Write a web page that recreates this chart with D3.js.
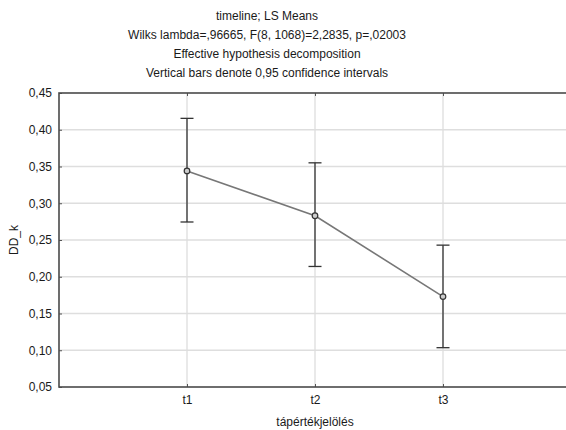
<!DOCTYPE html>
<html>
<head>
<meta charset="utf-8">
<script src="https://cdn.jsdelivr.net/npm/d3@7"></script>
<style>
  body { margin: 0; background: #fff; }
  svg { display: block; font-family: 'Liberation Sans', Arial, sans-serif; }
</style>
</head>
<body>
<svg></svg>
<script>
const groups = ['t1', 't2', 't3'];
const means = [0.344, 0.283, 0.173];
const lower = [0.2745, 0.214, 0.1035];
const upper = [0.4155, 0.355, 0.243];
const yTicks = [0.05, 0.10, 0.15, 0.20, 0.25, 0.30, 0.35, 0.40, 0.45];
const titleLines = [
    'timeline; LS Means',
    'Wilks lambda=,96665, F(8, 1068)=2,2835, p=,02003',
    'Effective hypothesis decomposition',
    'Vertical bars denote 0,95 confidence intervals'
];

const width = 566;
const height = 430;
const plotLeft = 59, plotRight = 571, plotTop = 93, plotBottom = 387;

const svg = d3.select('svg').attr('width', width).attr('height', height);

const xScale = d3.scalePoint()
    .domain(['', ...groups, ' '])
    .range([plotLeft, plotRight]);

const yScale = d3.scaleLinear()
    .domain([0.05, 0.45])
    .range([plotBottom, plotTop]);

const fmt = d => d3.format('.2f')(d).replace('.', ',');

// gridlines
svg.append('g')
    .selectAll('line')
    .data(yTicks.slice(1, -1))
    .enter()
    .append('line')
    .attr('x1', plotLeft).attr('x2', plotRight)
    .attr('y1', d => yScale(d)).attr('y2', d => yScale(d))
    .attr('stroke', '#dedede').attr('stroke-width', 1.3);

svg.append('g')
    .selectAll('line')
    .data(groups)
    .enter()
    .append('line')
    .attr('x1', d => xScale(d)).attr('x2', d => xScale(d))
    .attr('y1', plotTop).attr('y2', plotBottom)
    .attr('stroke', '#dedede').attr('stroke-width', 1.3);

// axes (ticks pointing inward)
const yAxis = d3.axisLeft(yScale).tickValues(yTicks).tickSize(-3).tickPadding(7).tickFormat(fmt);
const gy = svg.append('g').attr('transform', `translate(${plotLeft},0)`).call(yAxis);
gy.select('.domain').remove();
gy.selectAll('line').attr('stroke', '#555');
gy.selectAll('text').attr('font-size', 12).attr('fill', '#1a1a1a');

const xAxis = d3.axisBottom(xScale).tickValues(groups).tickSize(-3).tickPadding(8);
const gx = svg.append('g').attr('transform', `translate(0,${plotBottom})`).call(xAxis);
gx.select('.domain').remove();
gx.selectAll('line').attr('stroke', '#555');
gx.selectAll('text').attr('font-size', 12).attr('fill', '#1a1a1a');

const xTop = d3.axisTop(xScale).tickValues(groups).tickSize(-3).tickFormat('');
const gt = svg.append('g').attr('transform', `translate(0,${plotTop})`).call(xTop);
gt.select('.domain').remove();
gt.selectAll('line').attr('stroke', '#555');

// frame
svg.append('rect')
    .attr('x', plotLeft).attr('y', plotTop)
    .attr('width', plotRight - plotLeft).attr('height', plotBottom - plotTop)
    .attr('fill', 'none').attr('stroke', '#4a4a4a').attr('stroke-width', 1.6);

// error bars
const bars = svg.append('g').attr('stroke', '#333').attr('stroke-width', 1.3);
groups.forEach((g, i) => {
    const x = xScale(g);
    bars.append('line').attr('x1', x).attr('x2', x).attr('y1', yScale(lower[i])).attr('y2', yScale(upper[i]));
    bars.append('line').attr('x1', x - 6.5).attr('x2', x + 6.5).attr('y1', yScale(upper[i])).attr('y2', yScale(upper[i]));
    bars.append('line').attr('x1', x - 6.5).attr('x2', x + 6.5).attr('y1', yScale(lower[i])).attr('y2', yScale(lower[i]));
});

// mean line
const line = d3.line()
    .x((d, i) => xScale(groups[i]))
    .y(d => yScale(d));
svg.append('path')
    .datum(means)
    .attr('d', line)
    .attr('fill', 'none')
    .attr('stroke', '#777')
    .attr('stroke-width', 1.6);

svg.append('g')
    .selectAll('circle')
    .data(means)
    .enter()
    .append('circle')
    .attr('cx', (d, i) => xScale(groups[i]))
    .attr('cy', d => yScale(d))
    .attr('r', 2.8)
    .attr('fill', '#ccc')
    .attr('stroke', '#333')
    .attr('stroke-width', 1.2);

// titles
svg.append('g')
    .selectAll('text')
    .data(titleLines)
    .enter()
    .append('text')
    .attr('x', 267)
    .attr('y', (d, i) => 20 + i * 19)
    .attr('text-anchor', 'middle')
    .attr('font-size', 12)
    .attr('fill', '#1a1a1a')
    .text(d => d);

svg.append('text')
    .attr('x', xScale('t2'))
    .attr('y', 426)
    .attr('text-anchor', 'middle')
    .attr('font-size', 12)
    .attr('fill', '#1a1a1a')
    .text('tápértékjelölés');

svg.append('text')
    .attr('transform', `translate(18,${(plotTop + plotBottom) / 2}) rotate(-90)`)
    .attr('text-anchor', 'middle')
    .attr('font-size', 12)
    .attr('fill', '#1a1a1a')
    .text('DD_k');
</script>
</body>
</html>
